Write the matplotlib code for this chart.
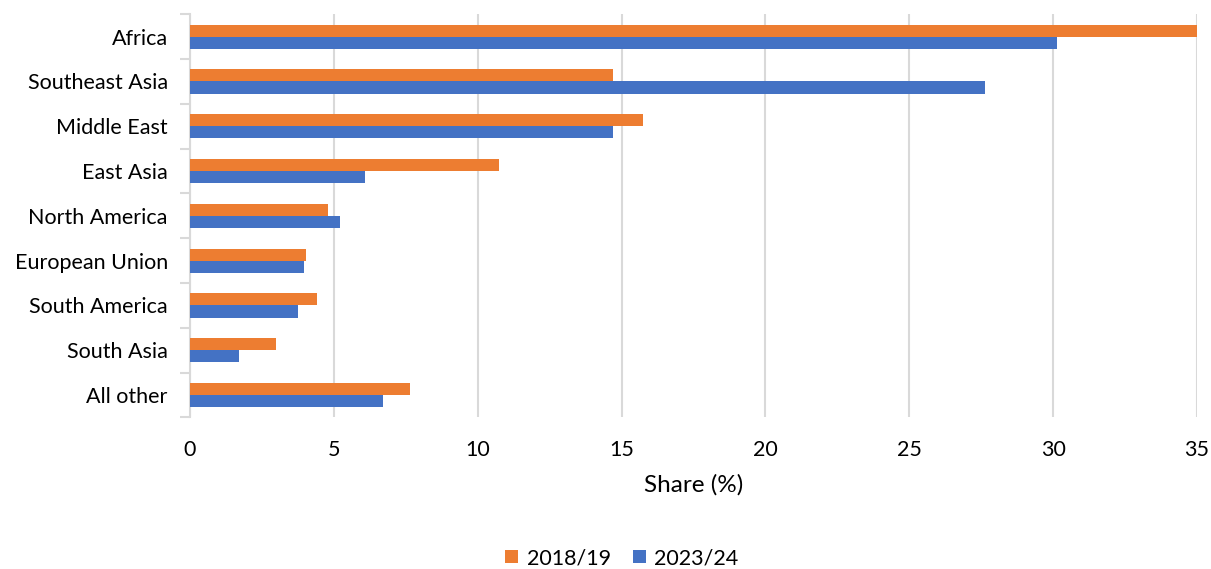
import matplotlib
matplotlib.use("Agg")
from matplotlib import pyplot
import numpy

regions = ["Africa", "Southeast Asia", "Middle East", "East Asia", "North America",
           "European Union", "South America", "South Asia", "All other"]
share_2018 = [35.0, 14.69, 15.73, 10.74, 4.80, 4.03, 4.42, 2.98, 7.63]
share_2023 = [30.15, 27.63, 14.69, 6.07, 5.22, 3.96, 3.75, 1.72, 6.72]
xticks = [0, 5, 10, 15, 20, 25, 30, 35]

pyplot.rcParams["font.family"] = ["Lato", "DejaVu Sans"]

fig = pyplot.figure(figsize=(12.11, 5.69), dpi=100)
ax = fig.add_axes([0.1569, 0.2663, 0.9884 - 0.1569, 0.9749 - 0.2663])

y = numpy.arange(len(regions))
h = 0.27
ax.barh(y - h / 2, share_2018, height=h, color="#ED7D31", label="2018/19", zorder=3)
ax.barh(y + h / 2, share_2023, height=h, color="#4472C4", label="2023/24", zorder=3)

ax.set_xlim(0, 35)
ax.set_ylim(len(regions) - 0.5, -0.5)
ax.set_xticks(xticks)
ax.set_yticks(y)
ax.set_yticklabels(regions, fontsize=15.5)
ax.set_yticks(numpy.arange(-0.5, len(regions), 1), minor=True)
ax.tick_params(axis="y", which="major", length=0, pad=16)
ax.tick_params(axis="y", which="minor", length=7, width=1.5, color="#d9d9d9")
ax.tick_params(axis="x", length=0, labelsize=15.5, pad=16)
ax.grid(axis="x", color="#d9d9d9", linewidth=1.5, zorder=0)

for side in ["top", "right", "bottom"]:
    ax.spines[side].set_visible(False)
ax.spines["left"].set_color("#d9d9d9")
ax.spines["left"].set_linewidth(1.5)

ax.set_xlabel("Share (%)", fontsize=17.5, labelpad=10)

fig.legend(loc="center", bbox_to_anchor=(0.5136, 0.0193), ncol=2, frameon=False,
           fontsize=15.5, handlelength=0.6, handleheight=0.6, handletextpad=0.4,
           columnspacing=1.0)

fig.savefig("out.png", dpi=100)
